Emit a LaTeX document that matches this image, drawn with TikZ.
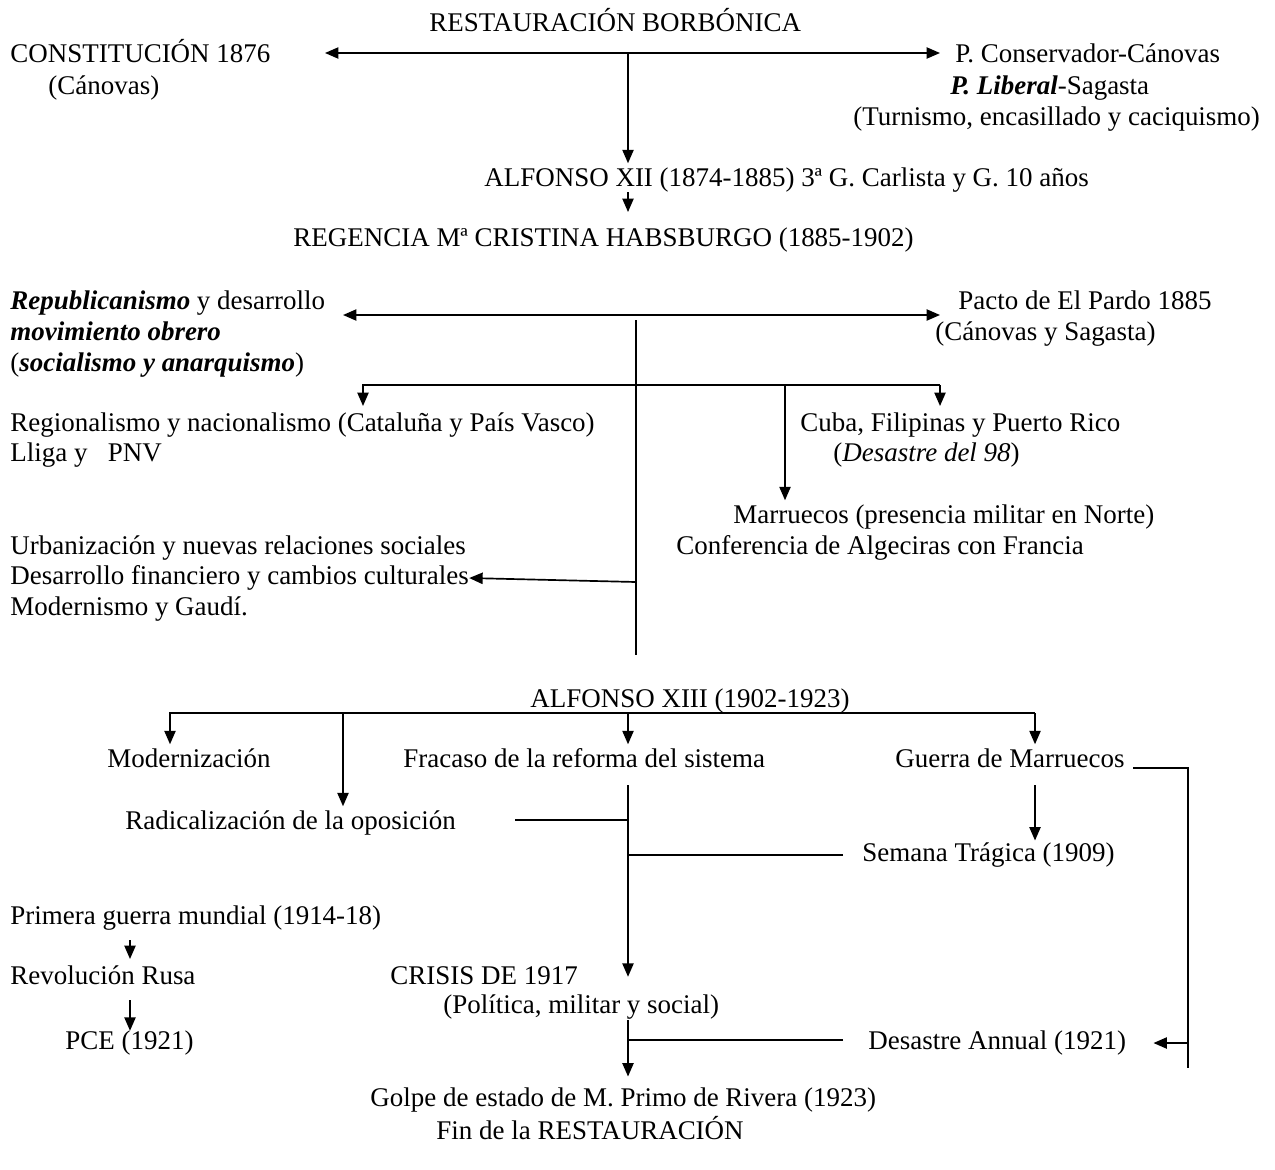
\documentclass[tikz,border=0pt]{standalone}
\usepackage{fontspec}
\setmainfont{Liberation Serif}
\usetikzlibrary{arrows.meta}

\tikzset{
  txt/.style={inner sep=0pt, anchor=west, text height=8pt, text depth=2.5pt,
    font=\fontsize{12}{13.8}\selectfont},
  conn/.style={line width=0.75pt},
  arr/.style={conn, -{Triangle[length=6pt,width=5pt]}},
  darr/.style={conn, {Triangle[length=6pt,width=5pt]}-{Triangle[length=6pt,width=5pt]}},
}
\newcommand{\bi}[1]{\textbf{\textit{#1}}}

\begin{document}
\begin{tikzpicture}[x=0.445pt, y=-0.445pt]
\useasboundingbox (0,0) rectangle (1275,1169);

% Restauracion y Alfonso XII
\node[txt] (rest) at (429,25) {RESTAURACIÓN BORBÓNICA};
\node[txt] (const) at (10,56) {CONSTITUCIÓN 1876};
\node[txt] (cano) at (48,88) {(Cánovas)};
\node[txt] (conserv) at (955,56) {P. Conservador-Cánovas};
\node[txt] (liberal) at (950,88) {\bi{P. Liberal}-Sagasta};
\node[txt] (turn) at (853,119) {(Turnismo, encasillado y caciquismo)};
\node[txt] (alf12) at (484,180) {ALFONSO XII (1874-1885) 3ª G. Carlista y G. 10 años};
\node[txt] (reg) at (293,240) {REGENCIA Mª CRISTINA HABSBURGO (1885-1902)};

\coordinate (rtl) at (325,53);
\coordinate (rtr) at (940,53);
\coordinate (rj) at (628,53);
\draw[darr] (rtl) -- (rtr);
\draw[arr, shorten >=2pt] (rj) -- (rj |- alf12.north);
\draw[arr, shorten >=7pt] (rj |- alf12.south) -- (rj |- reg.north);

% Regencia
\node[txt] (repub) at (10,303) {\bi{Republicanismo} y desarrollo};
\node[txt] (movim) at (10,334) {\bi{movimiento obrero}};
\node[txt] (socan) at (10,365) {(\bi{socialismo y anarquismo})};
\node[txt] (pacto) at (958,303) {Pacto de El Pardo 1885};
\node[txt] (canosag) at (935,334) {(Cánovas y Sagasta)};
\node[txt] (region) at (10,425) {Regionalismo y nacionalismo (Cataluña y País Vasco)};
\node[txt] (lliga) at (10,455) {Lliga y \ \ PNV};
\node[txt] (cuba) at (800,425) {Cuba, Filipinas y Puerto Rico};
\node[txt] (desas98) at (833,455) {(\textit{Desastre del 98})};
\node[txt] (marr) at (733,517) {Marruecos (presencia militar en Norte)};
\node[txt] (algec) at (676,548) {Conferencia de Algeciras con Francia};
\node[txt] (urban) at (10,548) {Urbanización y nuevas relaciones sociales};
\node[txt] (desarr) at (10,578) {Desarrollo financiero y cambios culturales};
\node[txt] (modern) at (10,609) {Modernismo y Gaudí.};

\coordinate (gl) at (343,315);
\coordinate (gr) at (940,315);
\coordinate (gt) at (636,320);
\coordinate (gb) at (636,655);
\coordinate (gu) at (636,582);
\coordinate (bl) at (363,385);
\coordinate (bm) at (785,385);
\coordinate (br) at (940,385);
\draw[darr] (gl) -- (gr);
\draw[conn] (gt) -- (gb);
\draw[arr, shorten >=3pt] (br) -- (bl) -- (bl |- region.north);
\draw[arr, shorten >=3pt] (br) -- (br |- cuba.north);
\draw[arr, shorten >=2pt] (bm) -- (bm |- marr.north);
\draw[arr] (gu) -- (desarr.east);

% Alfonso XIII
\node[txt] (alf13) at (530,701) {ALFONSO XIII (1902-1923)};
\node[txt] (moder) at (107,761) {Modernización};
\node[txt] (fracaso) at (403,761) {Fracaso de la reforma del sistema};
\node[txt] (guerra) at (895,761) {Guerra de Marruecos};
\node[txt] (radical) at (125,823) {Radicalización de la oposición};
\node[txt] (semana) at (862,855) {Semana Trágica (1909)};
\node[txt] (primera) at (10,918) {Primera guerra mundial (1914-18)};
\node[txt] (revol) at (10,978) {Revolución Rusa};
\node[txt] (crisis) at (390,978) {CRISIS DE 1917};
\node[txt] (polit) at (443,1007) {(Política, militar y social)};
\node[txt] (pce) at (65,1043) {PCE (1921)};
\node[txt] (annual) at (868,1043) {Desastre Annual (1921)};
\node[txt] (golpe) at (370,1100) {Golpe de estado de M. Primo de Rivera (1923)};
\node[txt] (fin) at (436,1133) {Fin de la RESTAURACIÓN};

\coordinate (al) at (170,713);
\coordinate (am) at (343,713);
\coordinate (ac) at (628,713);
\coordinate (ar) at (1035,713);
\draw[arr, shorten >=2pt] (ar) -- (al) -- (al |- moder.north);
\draw[arr, shorten >=2pt] (ar) -- (ar |- guerra.north);
\draw[arr, shorten >=2pt] (am) -- (am |- radical.north);
\draw[arr, shorten >=2pt] (ac) -- (ac |- fracaso.north);

\coordinate (ft) at (628,785);
\coordinate (fr) at (515,820);
\coordinate (fs) at (843,855);
\coordinate (fa) at (628,1020);
\coordinate (fd) at (843,1040);
\draw[arr, shorten >=8pt] (ft) -- (ft |- polit.north);
\draw[conn] (fr) -- (fr -| ft);
\draw[conn] (fs) -- (fs -| ft);
\draw[arr, shorten >=5pt] (fa) -- (fa |- golpe.north);
\draw[conn] (fd) -- (fd -| fa);

\coordinate (gs) at (1035,785);
\draw[arr, shorten >=1pt] (gs) -- (gs |- semana.north);
\coordinate (gw1) at (1133,768);
\coordinate (gw2) at (1188,768);
\coordinate (gw3) at (1188,1068);
\draw[conn] (gw1) -- (gw2) -- (gw3);
\draw[arr, shorten >=12pt] (gw3 |- annual.east) -- (annual.east);

\coordinate (pr) at (130,940);
\coordinate (rp) at (130,1000);
\draw[arr, shorten >=3pt] (pr) -- (pr |- revol.north);
\draw[arr] (rp) -- (rp |- pce.north);
\end{tikzpicture}
\end{document}
